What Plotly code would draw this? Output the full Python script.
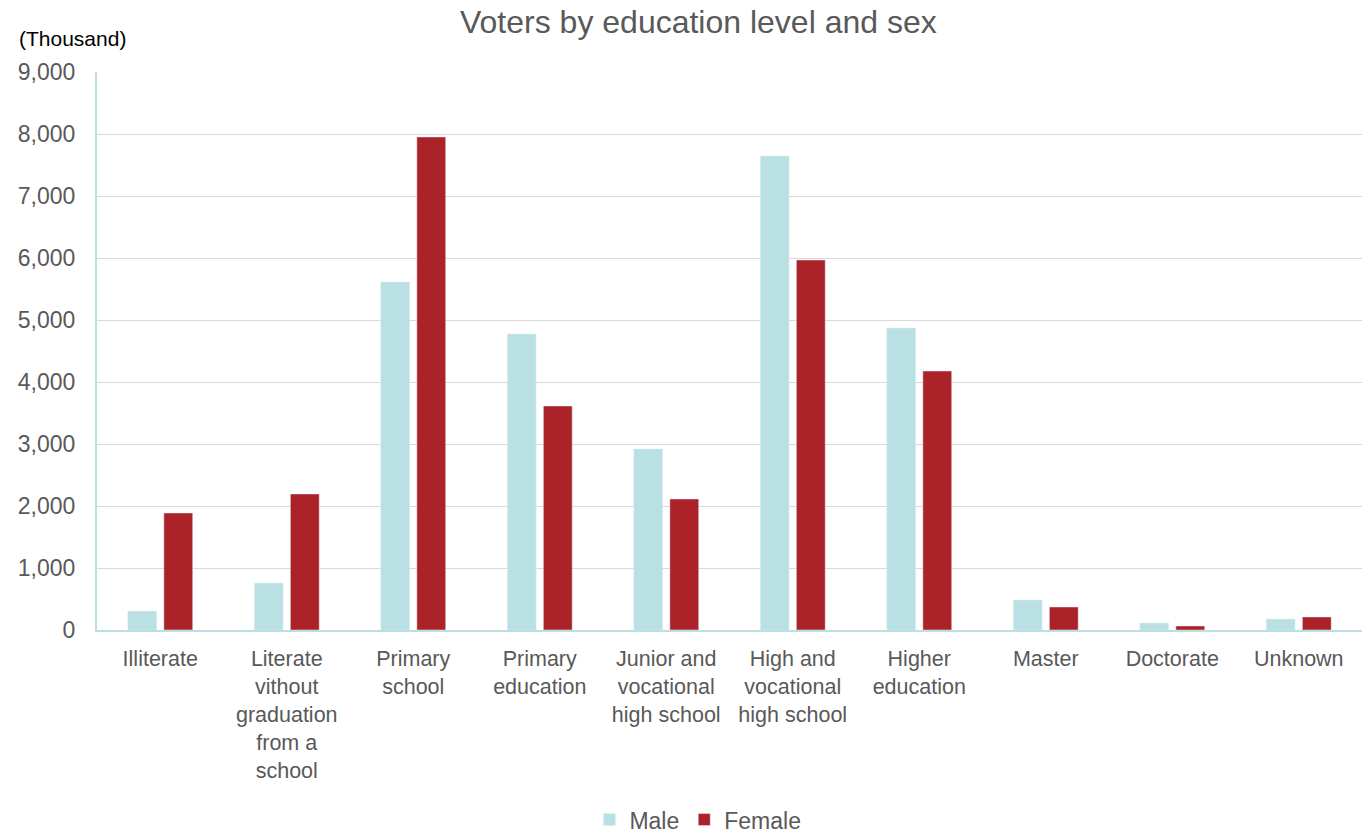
import plotly.graph_objects as go

categories = ["Illiterate", "Literate<br>vithout<br>graduation<br>from a<br>school", "Primary<br>school",
              "Primary<br>education", "Junior and<br>vocational<br>high school",
              "High and<br>vocational<br>high school", "Higher<br>education", "Master", "Doctorate", "Unknown"]
male = [306, 758, 5613, 4774, 2919, 7645, 4871, 484, 113, 177]
female = [1887, 2194, 7952, 3613, 2113, 5968, 4177, 371, 65, 210]
yticks = [0, 1000, 2000, 3000, 4000, 5000, 6000, 7000, 8000, 9000]

fig = go.Figure()
fig.add_bar(x=categories, y=male, name="Male", marker=dict(color="#B9E0E3"))
fig.add_bar(x=categories, y=female, name="Female", marker=dict(color="#AB2229"))

fig.update_layout(
    width=1364, height=833,
    paper_bgcolor="white", plot_bgcolor="white",
    font=dict(family="Liberation Sans, Arial", color="#595959", size=21),
    title=dict(text="Voters by education level and sex", x=0.512, xanchor="center",
               y=0.974, yanchor="middle", font=dict(size=32, color="#595959")),
    margin=dict(l=97, r=2, t=72, b=203, autoexpand=False),
    barmode="group", bargap=0.43, bargroupgap=0.2,
    legend=dict(orientation="h", x=0.475, xanchor="center", yref="container", y=0.016,
                yanchor="middle", font=dict(size=23, color="#595959"), itemwidth=30,
                tracegroupgap=0),
    xaxis=dict(showline=True, linecolor="#B9E0E3", linewidth=2, ticks="", automargin=False,
               tickfont=dict(size=21.5, color="#595959"), ticklabelstandoff=8),
    yaxis=dict(range=[0, 9000], tickvals=yticks, tickformat=",d", showline=True,
               linecolor="#B9E0E3", linewidth=2, gridcolor="#D9D9D9", gridwidth=1,
               ticks="", ticklabelstandoff=15, tickfont=dict(size=23, color="#595959"),
               zeroline=False, automargin=False),
    annotations=[dict(text="(Thousand)", xref="paper", yref="paper", x=-0.063, y=1.06,
                      xanchor="left", yanchor="middle", showarrow=False,
                      font=dict(size=21, color="black"))],
)

fig.write_html("out.html")
